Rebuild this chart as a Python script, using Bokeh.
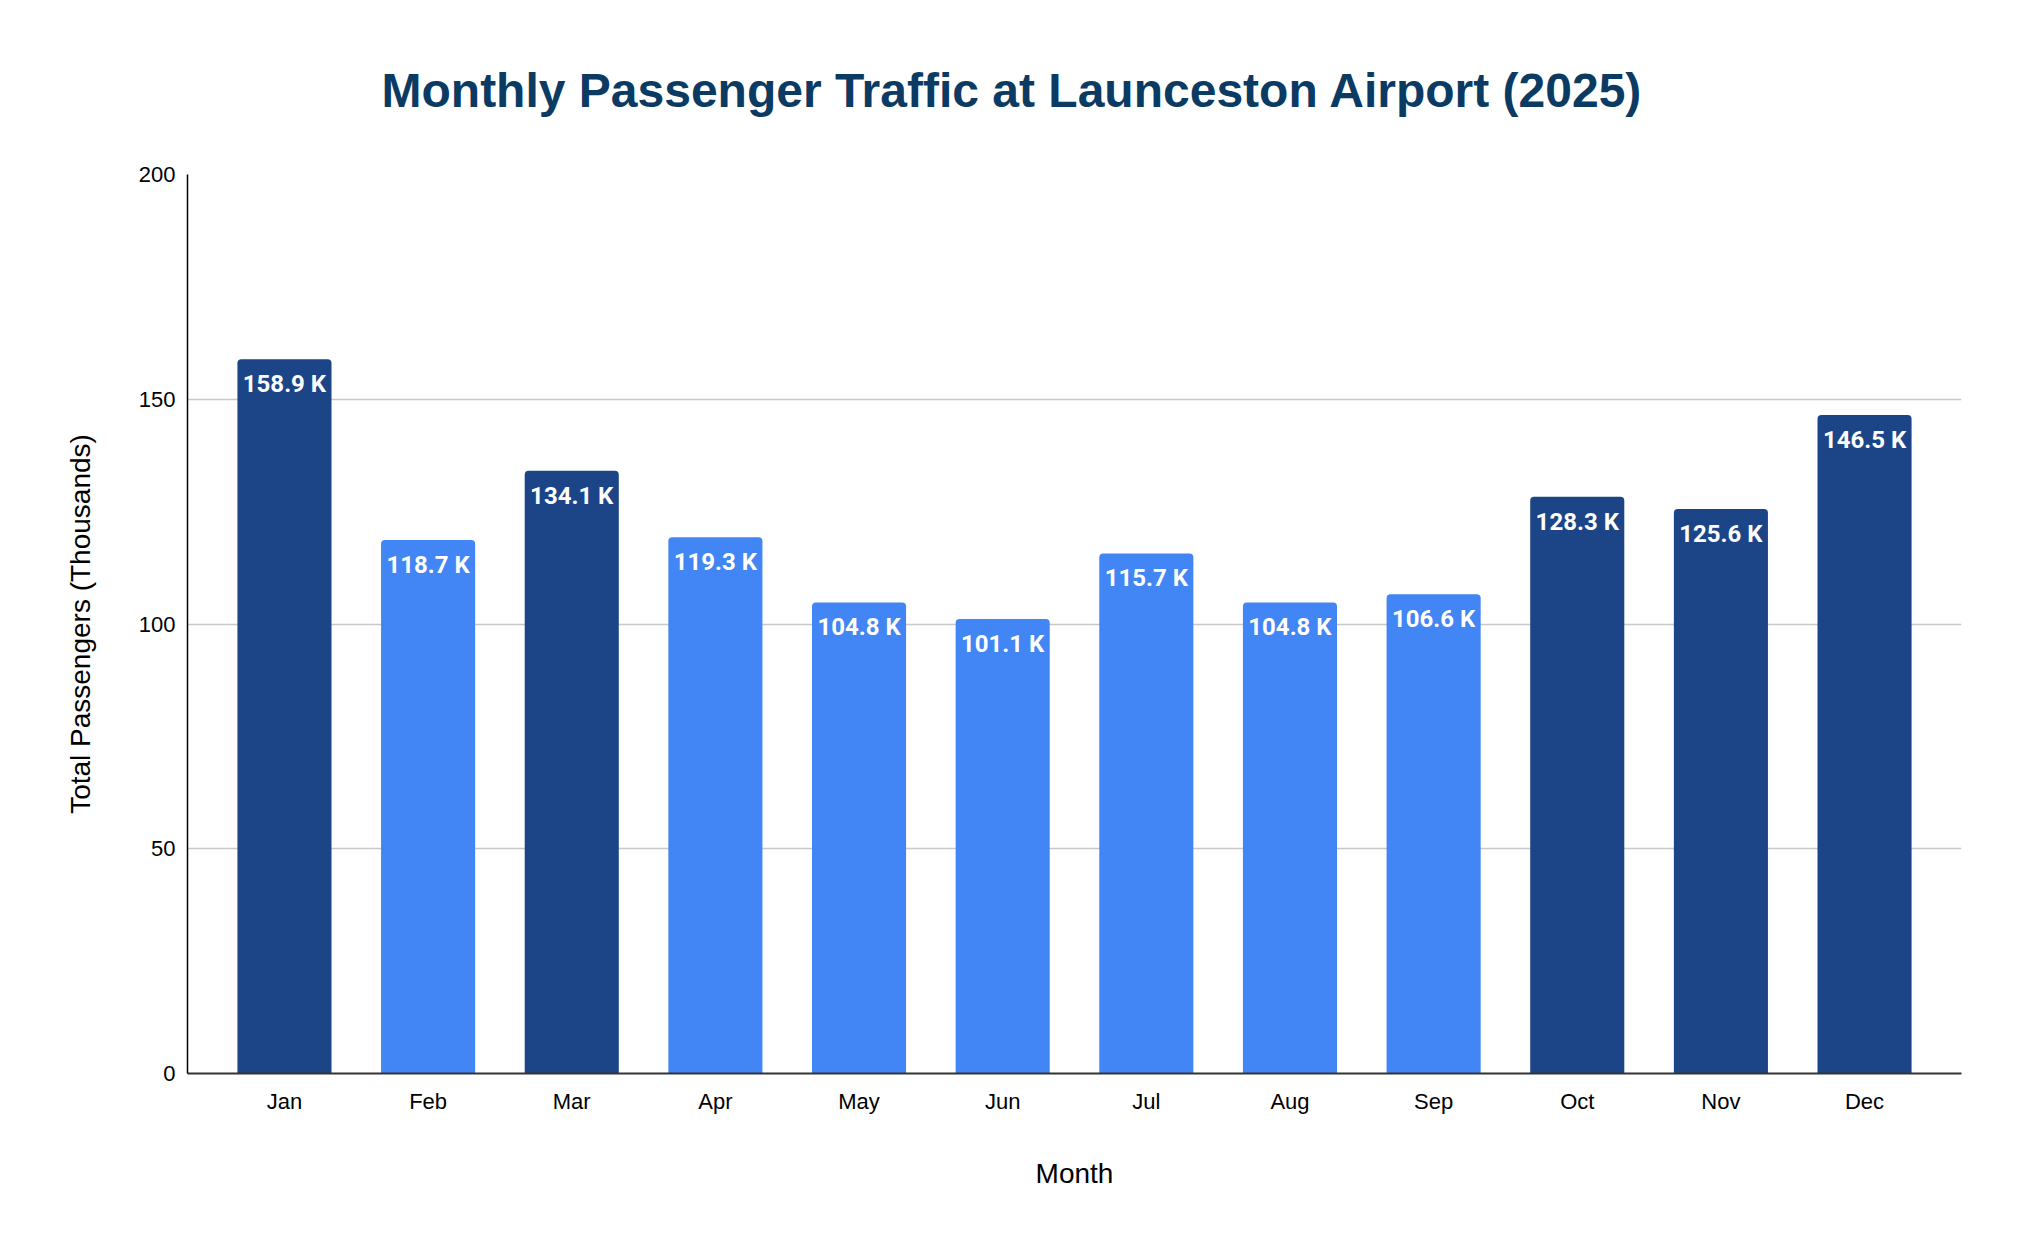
from bokeh.plotting import figure
from bokeh.models import FactorRange, FixedTicker, ColumnDataSource
from bokeh.core.properties import value
from bokeh.embed import file_html
from bokeh.resources import INLINE

months = ["Jan", "Feb", "Mar", "Apr", "May", "Jun", "Jul", "Aug", "Sep", "Oct", "Nov", "Dec"]
passengers_k = [158.9, 118.7, 134.1, 119.3, 104.8, 101.1, 115.7, 104.8, 106.6, 128.3, 125.6, 146.5]
is_peak = [True, False, True, False, False, False, False, False, False, True, True, True]
y_ticks = [0, 50, 100, 150, 200]

DARK = "#1c4587"
LIGHT = "#4285f4"

src = ColumnDataSource(dict(
    month=months,
    val=passengers_k,
    color=[DARK if pk else LIGHT for pk in is_peak],
    label=[f"{v:.1f} K" for v in passengers_k],
))

p = figure(
    width=2008, height=1234,
    x_range=FactorRange(factors=months, range_padding=0.175, range_padding_units="absolute"),
    y_range=(0, 200),
    output_backend="svg", toolbar_location=None,
    min_border_left=187, min_border_right=47, min_border_top=174, min_border_bottom=161,
    title="Monthly Passenger Traffic at Launceston Airport (2025)",
)
p.outline_line_color = None
p.background_fill_color = "white"
p.border_fill_color = "white"

p.title.text_font = "Liberation Sans"
p.title.text_font_size = "48px"
p.title.text_font_style = "bold"
p.title.text_color = "#0b3a63"
p.title.align = "left"
p.title.standoff = 116
p.title.offset = 194

p.vbar(x="month", top="val", width=0.655, source=src, fill_color="color",
       line_color=None, border_radius=(4, 4, 0, 0))

p.text(x="month", y="val", text="label", source=src,
       text_font=value("Roboto"), text_font_style="bold", text_font_size="24px",
       text_color="white", text_align="center", text_baseline="alphabetic", y_offset=25)

# grids
p.xgrid.grid_line_color = None
p.ygrid.grid_line_color = "#c8c8c8"
p.ygrid.grid_line_width = 1.5
p.yaxis.ticker = FixedTicker(ticks=y_ticks)

for ax in (p.xaxis[0], p.yaxis[0]):
    ax.major_tick_line_color = None
    ax.minor_tick_line_color = None
    ax.major_tick_out = 0
    ax.major_tick_in = 0
    ax.major_label_text_font = "Liberation Sans"
    ax.major_label_text_font_size = "22px"
    ax.major_label_text_color = "#000000"
    ax.axis_label_text_font = "Liberation Sans"
    ax.axis_label_text_font_size = "28px"
    ax.axis_label_text_font_style = "normal"
    ax.axis_label_text_color = "#000000"

p.xaxis.axis_label = "Month"
p.xaxis.axis_line_color = "#333333"
p.xaxis.axis_line_width = 2
p.xaxis.major_label_standoff = 15
p.xaxis.axis_label_standoff = 41

p.yaxis.axis_label = "Total Passengers (Thousands)"
p.yaxis.axis_line_color = "#000000"
p.yaxis.axis_line_width = 1.5
p.yaxis.major_label_standoff = 12
p.yaxis.axis_label_standoff = 40

open("out.html", "w").write(file_html(p, INLINE))
